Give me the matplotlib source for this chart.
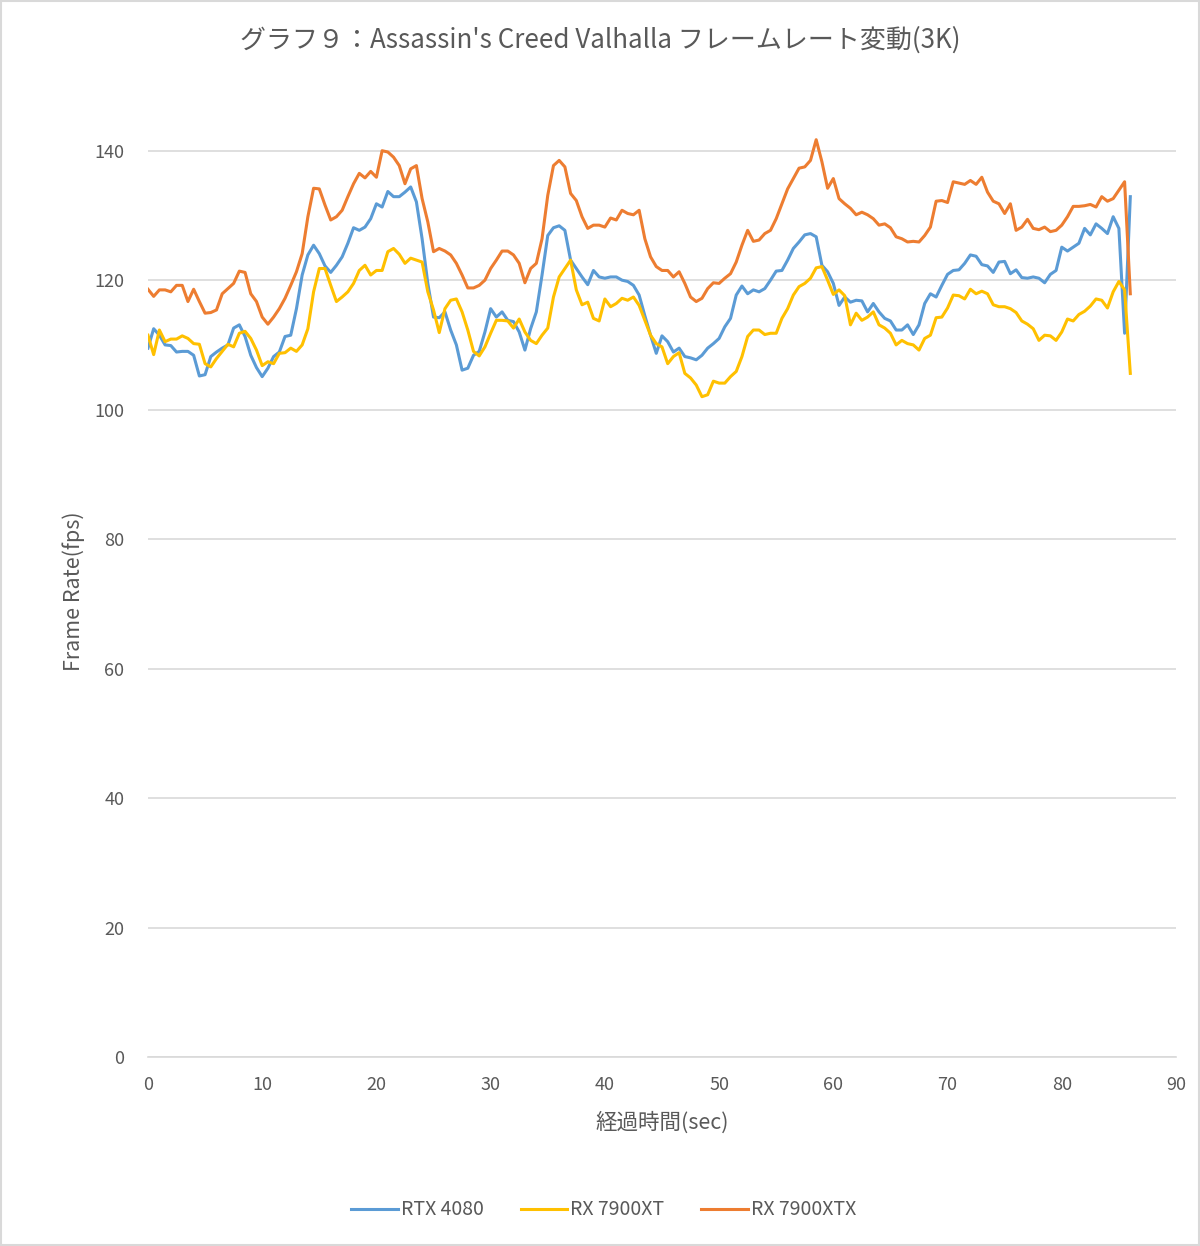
import numpy as np
import matplotlib
matplotlib.use("Agg")
import matplotlib.pyplot as plt
from matplotlib.patches import Rectangle

plt.rcParams['font.family'] = ['Noto Sans CJK JP', 'DejaVu Sans']

# 経過時間 (0.5秒刻み)
t = np.arange(0, 86.5, 0.5)

rtx4080 = [
    109.5, 112.5, 111.5, 110.0, 109.9, 108.9, 109.0, 109.0, 108.4, 105.2,
    105.4, 108.2, 108.9, 109.5, 110.0, 112.6, 113.1, 111.3, 108.4, 106.5,
    105.1, 106.4, 108.2, 108.9, 111.3, 111.5, 115.6, 120.8, 123.9, 125.4,
    124.1, 122.2, 121.2, 122.3, 123.6, 125.7, 128.1, 127.7, 128.2, 129.5,
    131.8, 131.3, 133.7, 132.9, 132.9, 133.6, 134.4, 132.1, 126.4, 119.5,
    114.3, 114.2, 115.1, 112.3, 110.0, 106.1, 106.4, 108.4, 109.0, 112.0,
    115.6, 114.3, 115.1, 113.8, 113.6, 112.0, 109.2, 112.5, 115.1, 120.8,
    126.9, 128.1, 128.4, 127.7, 123.1, 121.8, 120.5, 119.3, 121.5, 120.5,
    120.3, 120.5, 120.5, 120.0, 119.8, 119.2, 117.7, 114.5, 111.5, 108.7,
    111.4, 110.5, 108.9, 109.5, 108.2, 108.0, 107.7, 108.4, 109.5, 110.2,
    111.0, 112.8, 114.1, 117.7, 119.1, 117.9, 118.5, 118.2, 118.7, 120.0,
    121.4, 121.5, 123.1, 124.9, 125.9, 127.0, 127.2, 126.7, 122.3, 121.3,
    119.5, 116.1, 117.4, 116.6, 116.9, 116.8, 115.1, 116.4, 115.1, 114.1,
    113.7, 112.3, 112.3, 113.1, 111.6, 113.1, 116.4, 117.9, 117.4, 119.2,
    120.9, 121.5, 121.6, 122.6, 123.9, 123.7, 122.4, 122.2, 121.2, 122.8,
    122.9, 121.0, 121.6, 120.4, 120.3, 120.5, 120.3, 119.6, 120.9, 121.5,
    125.1, 124.5, 125.1, 125.7, 128.0, 127.0, 128.7, 128.0, 127.2, 129.8,
    128.0, 111.8, 132.9,
]

rx7900xt = [
    111.5, 108.5, 112.3, 110.5, 110.9, 110.9, 111.4, 111.0, 110.2, 110.1,
    107.1, 106.6, 107.9, 109.0, 110.1, 109.7, 111.8, 112.1, 111.0, 109.2,
    106.8, 107.4, 107.1, 108.7, 108.8, 109.5, 109.0, 110.0, 112.5, 118.2,
    121.8, 121.8, 119.2, 116.7, 117.4, 118.2, 119.5, 121.5, 122.3, 120.8,
    121.5, 121.5, 124.4, 124.9, 124.0, 122.6, 123.4, 123.1, 122.8, 118.2,
    115.4, 111.9, 115.6, 116.9, 117.1, 115.1, 112.3, 109.0, 108.3, 109.7,
    111.8, 113.8, 113.8, 113.7, 112.6, 114.0, 112.0, 110.7, 110.2, 111.5,
    112.6, 117.4, 120.5, 121.8, 123.1, 118.5, 116.2, 116.6, 114.1, 113.7,
    117.1, 115.9, 116.4, 117.2, 116.9, 117.4, 116.1, 113.8, 111.5, 110.2,
    109.7, 107.1, 108.2, 108.8, 105.6, 104.9, 103.8, 102.0, 102.3, 104.4,
    104.1, 104.1, 105.1, 105.9, 108.2, 111.3, 112.3, 112.3, 111.6, 111.8,
    111.8, 114.1, 115.6, 117.7, 119.0, 119.5, 120.3, 121.9, 122.1, 120.0,
    117.8, 118.5, 117.6, 113.1, 114.9, 113.8, 114.3, 115.1, 113.1, 112.6,
    111.8, 110.0, 110.7, 110.2, 110.0, 109.2, 111.0, 111.5, 114.2, 114.3,
    115.7, 117.7, 117.6, 117.1, 118.6, 117.9, 118.3, 117.9, 116.2, 115.9,
    115.9, 115.6, 115.0, 113.7, 113.2, 112.5, 110.7, 111.5, 111.4, 110.7,
    112.0, 114.0, 113.7, 114.7, 115.2, 116.0, 117.1, 116.9, 115.7, 118.2,
    119.8, 118.5, 105.6,
]

rx7900xtx = [
    118.6, 117.5, 118.5, 118.5, 118.2, 119.2, 119.2, 116.7, 118.6, 116.7,
    114.9, 115.0, 115.4, 117.9, 118.7, 119.5, 121.4, 121.2, 117.9, 116.7,
    114.3, 113.2, 114.3, 115.6, 117.2, 119.2, 121.3, 124.1, 129.8, 134.2,
    134.1, 131.6, 129.3, 129.8, 130.8, 132.9, 134.9, 136.5, 135.8, 136.8,
    135.9, 140.0, 139.8, 139.0, 137.7, 134.9, 137.2, 137.7, 132.6, 129.0,
    124.4, 124.9, 124.5, 123.9, 122.6, 120.8, 118.8, 118.8, 119.2, 120.0,
    121.8, 123.1, 124.5, 124.5, 123.9, 122.6, 119.6, 121.8, 122.6, 126.4,
    133.1, 137.7, 138.5, 137.5, 133.4, 132.3, 129.8, 128.0, 128.5, 128.5,
    128.2, 129.6, 129.3, 130.8, 130.3, 130.1, 130.8, 126.4, 123.6, 122.1,
    121.5, 121.5, 120.5, 121.3, 119.5, 117.4, 116.7, 117.2, 118.7, 119.6,
    119.5, 120.3, 121.0, 122.8, 125.4, 127.7, 126.0, 126.2, 127.2, 127.7,
    129.5, 131.8, 134.1, 135.7, 137.3, 137.5, 138.5, 141.7, 138.3, 134.2,
    135.7, 132.6, 131.8, 131.1, 130.1, 130.5, 130.1, 129.5, 128.5, 128.7,
    128.1, 126.7, 126.4, 125.9, 126.0, 125.9, 126.9, 128.2, 132.2, 132.3,
    132.0, 135.2, 135.0, 134.8, 135.4, 134.8, 135.9, 133.6, 132.2, 131.8,
    130.3, 131.8, 127.7, 128.2, 129.4, 128.0, 127.8, 128.2, 127.5, 127.7,
    128.5, 129.8, 131.4, 131.4, 131.5, 131.7, 131.3, 132.9, 132.2, 132.6,
    133.9, 135.2, 117.9,
]

labels = ["RTX 4080", "RX 7900XT", "RX 7900XTX"]
colors = ["#5B9BD5", "#FFC000", "#ED7D31"]
yticks = [0, 20, 40, 60, 80, 100, 120, 140]
xticks = [0, 10, 20, 30, 40, 50, 60, 70, 80, 90]

fig = plt.figure(figsize=(12, 12.46), dpi=100)
ax = fig.add_axes([0.1233, 0.1517, 0.8567, 0.7793])

for series, lab, col in zip([rtx4080, rx7900xt, rx7900xtx], labels, colors):
    ax.plot(t, series, color=col, lw=2.2, label=lab)

ax.set_xlim(0, 90)
ax.set_ylim(0, 150)
ax.set_xticks(xticks)
ax.set_yticks(yticks)
ax.grid(axis='y', color='#D9D9D9', lw=1.2)
ax.set_axisbelow(True)
for s in ['top', 'right', 'left']:
    ax.spines[s].set_visible(False)
ax.spines['bottom'].set_color('#D9D9D9')
ax.spines['bottom'].set_linewidth(1.2)
ax.tick_params(length=0, labelsize=13, labelcolor='#595959')
ax.tick_params(axis='x', pad=14)
ax.tick_params(axis='y', pad=17)

ax.set_xlabel("経過時間(sec)", fontsize=15.5, color='#595959', labelpad=12)
ax.set_ylabel("Frame Rate(fps)", fontsize=15.5, color='#595959')
ax.yaxis.set_label_coords(-0.061, 0.48)
fig.text(0.5, 0.968, "グラフ９：Assassin's Creed Valhalla フレームレート変動(3K)",
         ha='center', va='center', fontsize=18.7, color='#595959')

fig.legend(loc='center', bbox_to_anchor=(0.503, 0.029), ncol=3, frameon=False,
           fontsize=14, labelcolor='#595959', handlelength=2.4,
           handletextpad=0.15, columnspacing=1.9)

fig.patches.append(Rectangle((0.001, 0.001), 0.998, 0.998, transform=fig.transFigure,
                             fill=False, edgecolor='#D9D9D9', lw=1.5))

fig.savefig("out.png", dpi=100, facecolor='white')
